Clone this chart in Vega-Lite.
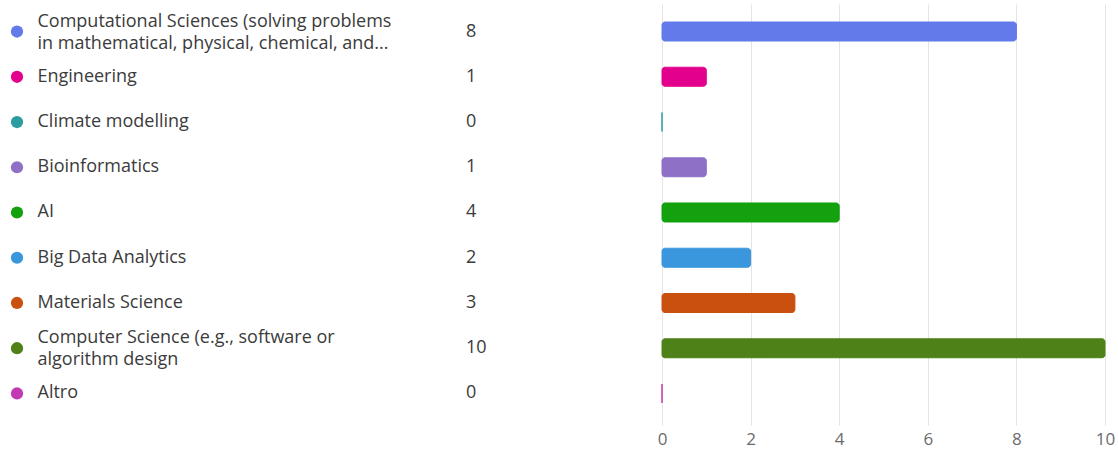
{
  "$schema": "https://vega.github.io/schema/vega-lite/v6.json",
  "padding": {"top": 4, "left": 0, "right": 0, "bottom": 2},
  "background": "white",
  "config": {
    "view": {"stroke": null},
    "font": "Open Sans"
  },
  "datasets": {
    "survey": [
      {"category": "Computational Sciences (solving problems\nin mathematical, physical, chemical, and...", "count": 8},
      {"category": "Engineering", "count": 1},
      {"category": "Climate modelling", "count": 0},
      {"category": "Bioinformatics", "count": 1},
      {"category": "AI", "count": 4},
      {"category": "Big Data Analytics", "count": 2},
      {"category": "Materials Science", "count": 3},
      {"category": "Computer Science (e.g., software or\nalgorithm design", "count": 10},
      {"category": "Altro", "count": 0}
    ]
  },
  "data": {"name": "survey"},
  "spacing": 170,
  "hconcat": [
    {
      "spacing": 74,
      "hconcat": [
        {
          "width": 34,
          "height": 421,
          "mark": {"type": "circle", "size": 150, "opacity": 1},
          "encoding": {
            "y": {
              "field": "category",
              "type": "nominal",
              "sort": null,
              "scale": {"type": "band", "paddingInner": 0.58, "paddingOuter": 0.442, "align": 0.45},
              "axis": {
                "orient": "right",
                "title": null,
                "domain": false,
                "ticks": false,
                "labelAlign": "left",
                "labelBaseline": "middle",
                "labelPadding": 3,
                "labelFontSize": 18,
                "labelColor": "#3b3b3b",
                "labelLimit": 0,
                "labelLineHeight": 22,
                "labelOffset": {"condition": {"test": "indexof(datum.value, '\\n') >= 0", "value": -10}, "value": 0},
                "labelExpr": "split(datum.value, '\\n')"
              }
            },
            "color": {
              "field": "category",
              "type": "nominal",
              "sort": null,
              "legend": null,
              "scale": {"range": ["#627AEA", "#E3008C", "#2B9DA1", "#8E70C6", "#13A10E", "#3A96DD", "#CA5010", "#4E8218", "#C239B3"]}
            }
          }
        },
        {
          "width": 2,
          "height": 421,
          "mark": {"type": "text", "align": "left", "baseline": "middle", "fontSize": 18, "color": "#3b3b3b"},
          "encoding": {
            "y": {
              "field": "category",
              "type": "nominal",
              "sort": null,
              "scale": {"type": "band", "paddingInner": 0.58, "paddingOuter": 0.442, "align": 0.45},
              "axis": null
            },
            "text": {"field": "count", "type": "quantitative"}
          }
        }
      ]
    },
    {
      "width": 443,
      "height": 421,
      "mark": {"type": "bar", "cornerRadius": 3, "strokeWidth": 1},
      "encoding": {
        "y": {
          "field": "category",
          "type": "nominal",
          "sort": null,
          "scale": {"paddingInner": 0.58, "paddingOuter": 0.442, "align": 0.45},
          "axis": null
        },
        "x": {
          "field": "count",
          "type": "quantitative",
          "scale": {"domain": [0, 10], "nice": false},
          "axis": {
            "title": null,
            "values": [0, 2, 4, 6, 8, 10],
            "domain": false,
            "ticks": false,
            "grid": true,
            "gridColor": "#e4e4e4",
            "labelFontSize": 17,
            "labelColor": "#6b6b6b",
            "labelPadding": 6,
            "labelFlush": false
          }
        },
        "color": {
          "field": "category",
          "type": "nominal",
          "sort": null,
          "legend": null,
          "scale": {"range": ["#627AEA", "#E3008C", "#2B9DA1", "#8E70C6", "#13A10E", "#3A96DD", "#CA5010", "#4E8218", "#C239B3"]}
        },
        "stroke": {
          "field": "category",
          "type": "nominal",
          "sort": null,
          "legend": null,
          "scale": {"range": ["#627AEA", "#E3008C", "#2B9DA1", "#8E70C6", "#13A10E", "#3A96DD", "#CA5010", "#4E8218", "#C239B3"]}
        }
      }
    }
  ]
}
